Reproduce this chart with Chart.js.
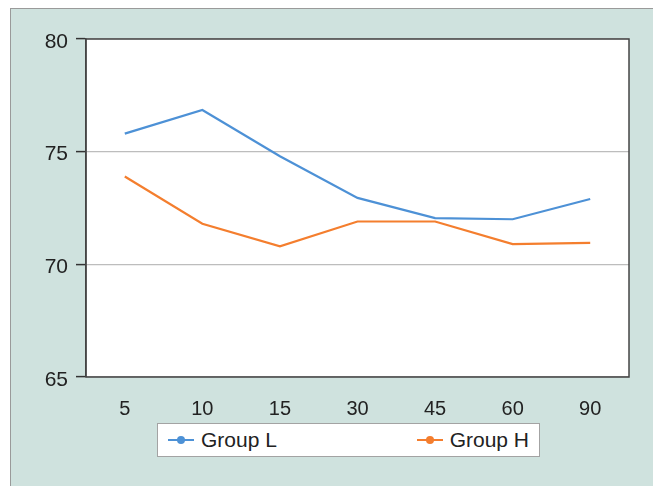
<!DOCTYPE html>
<html>
<head>
<meta charset="utf-8">
<script src="https://cdn.jsdelivr.net/npm/chart.js@4"></script>
<style>
  html, body { margin: 0; padding: 0; background: #fff; }
  #wrap { position: relative; width: 653px; height: 486px; overflow: hidden; font-family: "Liberation Sans", Arial, sans-serif; }
  #panel { position: absolute; left: 10px; top: 8px; right: -5px; bottom: -5px; background: #cfe2de; border-left: 1.5px solid #9a9a9a; border-top: 1.5px solid #9a9a9a; }
  #salesChart { position: absolute; left: 0; top: 0; }
  #chart-legend { position: absolute; left: 157px; top: 423px; width: 361px; height: 32px; background: #fff; border: 1.5px solid #a3a3a3; display: flex; justify-content: space-between; align-items: center; padding: 0 10px 0 10px; box-sizing: content-box; }
  .item { display: flex; align-items: center; font-size: 21px; color: #222; }
  .mark { position: relative; width: 26px; height: 8px; margin-right: 7px; }
  .mark .ln { position: absolute; left: 0; right: 0; top: 3px; height: 2px; }
  .mark .dot { position: absolute; left: 9px; top: 0; width: 8px; height: 8px; border-radius: 50%; }
</style>
</head>
<body>
<div id="wrap">
  <div id="panel"></div>
  <canvas id="salesChart" width="653" height="486"></canvas>
  <div id="chart-legend"></div>
</div>
<script>
// Dữ liệu
const categories = ['5', '10', '15', '30', '45', '60', '90'];
const groupL = [75.8, 76.85, 74.8, 72.95, 72.05, 72.0, 72.9];
const groupH = [73.9, 71.8, 70.8, 71.9, 71.9, 70.9, 70.95];
const yTicks = [65, 70, 75, 80];

const series = [
  { name: 'Group L', data: groupL, color: '#4d91d6' },
  { name: 'Group H', data: groupH, color: '#f47e2e' }
];

const fontFamily = '"Liberation Sans", Arial, sans-serif';

// nền trắng + khung vùng vẽ
const plotFrame = {
  id: 'plotFrame',
  beforeDraw(chart) {
    const { ctx, chartArea: a } = chart;
    ctx.save();
    ctx.fillStyle = '#fff';
    ctx.fillRect(a.left, a.top, a.right - a.left, a.bottom - a.top);
    ctx.restore();
  },
  afterDraw(chart) {
    const { ctx, chartArea: a } = chart;
    ctx.save();
    ctx.strokeStyle = '#444';
    ctx.lineWidth = 1.5;
    ctx.strokeRect(a.left, a.top, a.right - a.left, a.bottom - a.top);
    ctx.restore();
  }
};

const chart = new Chart(document.getElementById('salesChart'), {
  type: 'line',
  data: {
    labels: categories,
    datasets: series.map(s => ({
      label: s.name,
      data: s.data,
      borderColor: s.color,
      backgroundColor: s.color,
      borderWidth: 2.2,
      pointRadius: 0,
      tension: 0,
      fill: false
    }))
  },
  options: {
    responsive: false,
    animation: false,
    devicePixelRatio: 1,
    layout: { padding: { left: 0, top: 39, right: 24, bottom: 0 } },
    plugins: {
      legend: { display: false },
      tooltip: { enabled: false }
    },
    scales: {
      x: {
        offset: true,
        grid: { display: false },
        border: { display: false },
        ticks: { color: '#222', padding: 12, font: { family: fontFamily, size: 20 } },
        afterFit(scale) { scale.height = 109; }
      },
      y: {
        min: yTicks[0],
        max: yTicks[yTicks.length - 1],
        afterBuildTicks(scale) { scale.ticks = yTicks.map(v => ({ value: v })); },
        grid: { color: '#bdbdbd', lineWidth: 1.2, tickLength: 10, tickColor: '#333', tickWidth: 1.5 },
        border: { color: '#444', width: 1.5 },
        ticks: { color: '#222', padding: 8, labelOffset: 3, font: { family: fontFamily, size: 21 } },
        afterFit(scale) { scale.width = 86; }
      }
    }
  },
  plugins: [plotFrame]
});

// Legend HTML
const legend = document.getElementById('chart-legend');
legend.innerHTML = series.map(s => `
  <div class="item">
    <div class="mark"><div class="ln" style="background:${s.color}"></div><div class="dot" style="background:${s.color}"></div></div>
    <span>${s.name}</span>
  </div>
`).join('');
</script>
</body>
</html>
